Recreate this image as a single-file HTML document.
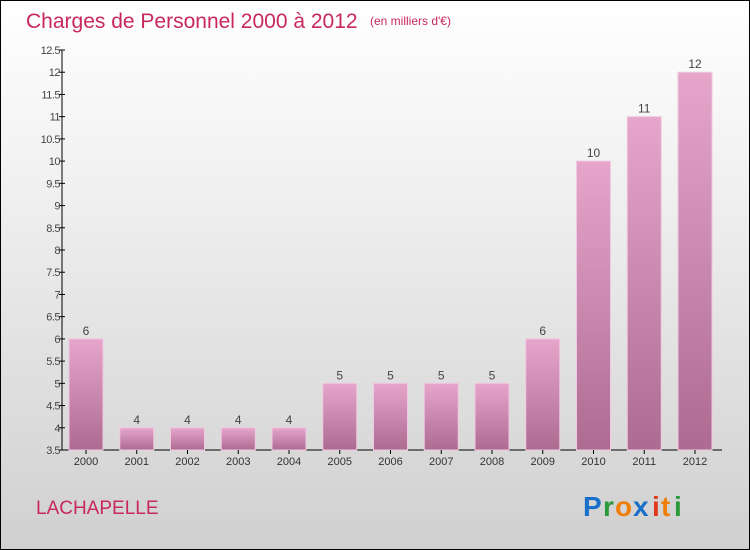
<!DOCTYPE html>
<html><head><meta charset="utf-8"><style>
html,body{margin:0;padding:0}
body{width:750px;height:550px;overflow:hidden;font-family:"Liberation Sans",sans-serif}
#frame{position:absolute;left:0;top:0;width:748px;height:548px;border:1px solid #000;background:linear-gradient(#ffffff,#f2f2f2 30%,#d0d0d0)}
</style></head><body>
<div id="frame">
<svg id="chart" width="750" height="550" style="position:absolute;left:-1px;top:-1px">
<defs><linearGradient id="bg" x1="0" y1="0" x2="0" y2="1"><stop offset="0" stop-color="#e6a6cc"/><stop offset="1" stop-color="#ad6b92"/></linearGradient></defs>
<text x="26" y="28" font-size="21" fill="#c8285d">Charges de Personnel 2000 à 2012</text>
<text x="370" y="25" font-size="12" fill="#c8285d">(en milliers d'€)</text>
<text x="36" y="514" font-size="19" fill="#c8285d">LACHAPELLE</text>
<g font-size="28" font-weight="bold" font-family="Liberation Sans, sans-serif">
<text x="583" y="516" fill="#1a6fc9">P</text><text x="603" y="516" fill="#2a9a3a">r</text><text x="615" y="516" fill="#f07f0a">o</text><text x="633" y="516" fill="#1a6fc9">x</text><text x="652" y="516" fill="#e03a1a">i</text><text x="661" y="516" fill="#f07f0a">t</text><text x="674" y="516" fill="#2a9a3a">i</text>
</g>
<g id="plot"></g>
</svg>
</div>
<script>
const categories=["2000","2001","2002","2003","2004","2005","2006","2007","2008","2009","2010","2011","2012"];
const values=[6,4,4,4,4,5,5,5,5,6,10,11,12];
const valueLabels=["6","4","4","4","4","5","5","5","5","6","10","11","12"];
const yTicks=[3.5,4,4.5,5,5.5,6,6.5,7,7.5,8,8.5,9,9.5,10,10.5,11,11.5,12,12.5];
const yMin=3.5,yMax=12.5,plotTop=50,plotBottom=450,axisX=62;
const NS="http://www.w3.org/2000/svg";
const g=document.getElementById('plot');
function y(v){return plotBottom-(v-yMin)/(yMax-yMin)*(plotBottom-plotTop);}
function x(i){return 86+i*50.75;}
function el(t,a){const e=document.createElementNS(NS,t);for(const k in a)e.setAttribute(k,a[k]);g.appendChild(e);return e;}
const ax=el('line',{x1:axisX,y1:plotTop,x2:axisX,y2:plotBottom,stroke:'#000'});


const bx=el('line',{x1:axisX,y1:plotBottom,x2:722,y2:plotBottom,stroke:'#000'});


yTicks.forEach(v=>{
 const t=el('line',{x1:axisX-3,y1:y(v),x2:axisX+3,y2:y(v),stroke:'#000'});
 
 
 const l=el('text',{x:axisX-2,y:y(v)+4,'font-size':11,fill:'#444','text-anchor':'end','letter-spacing':'-0.5'});
 l.textContent=String(v);
 
 
});
categories.forEach((c,i)=>{
 const cx=x(i);
 const r=el('rect',{x:cx-17,y:y(values[i]),width:34,height:plotBottom-y(values[i]),fill:'url(#bg)',stroke:'#f0c8df','stroke-width':1});
 
 
 const t=el('line',{x1:cx,y1:plotBottom,x2:cx,y2:plotBottom+4,stroke:'#000'});
 
 
 const l=el('text',{x:cx,y:plotBottom+15,'font-size':11,fill:'#333','text-anchor':'middle'});
 l.textContent=c;
 
 
 const v=el('text',{x:cx,y:y(values[i])-4,'font-size':12,fill:'#444','text-anchor':'middle'});
 v.textContent=valueLabels[i];
 
 
});
</script>
</body></html>
